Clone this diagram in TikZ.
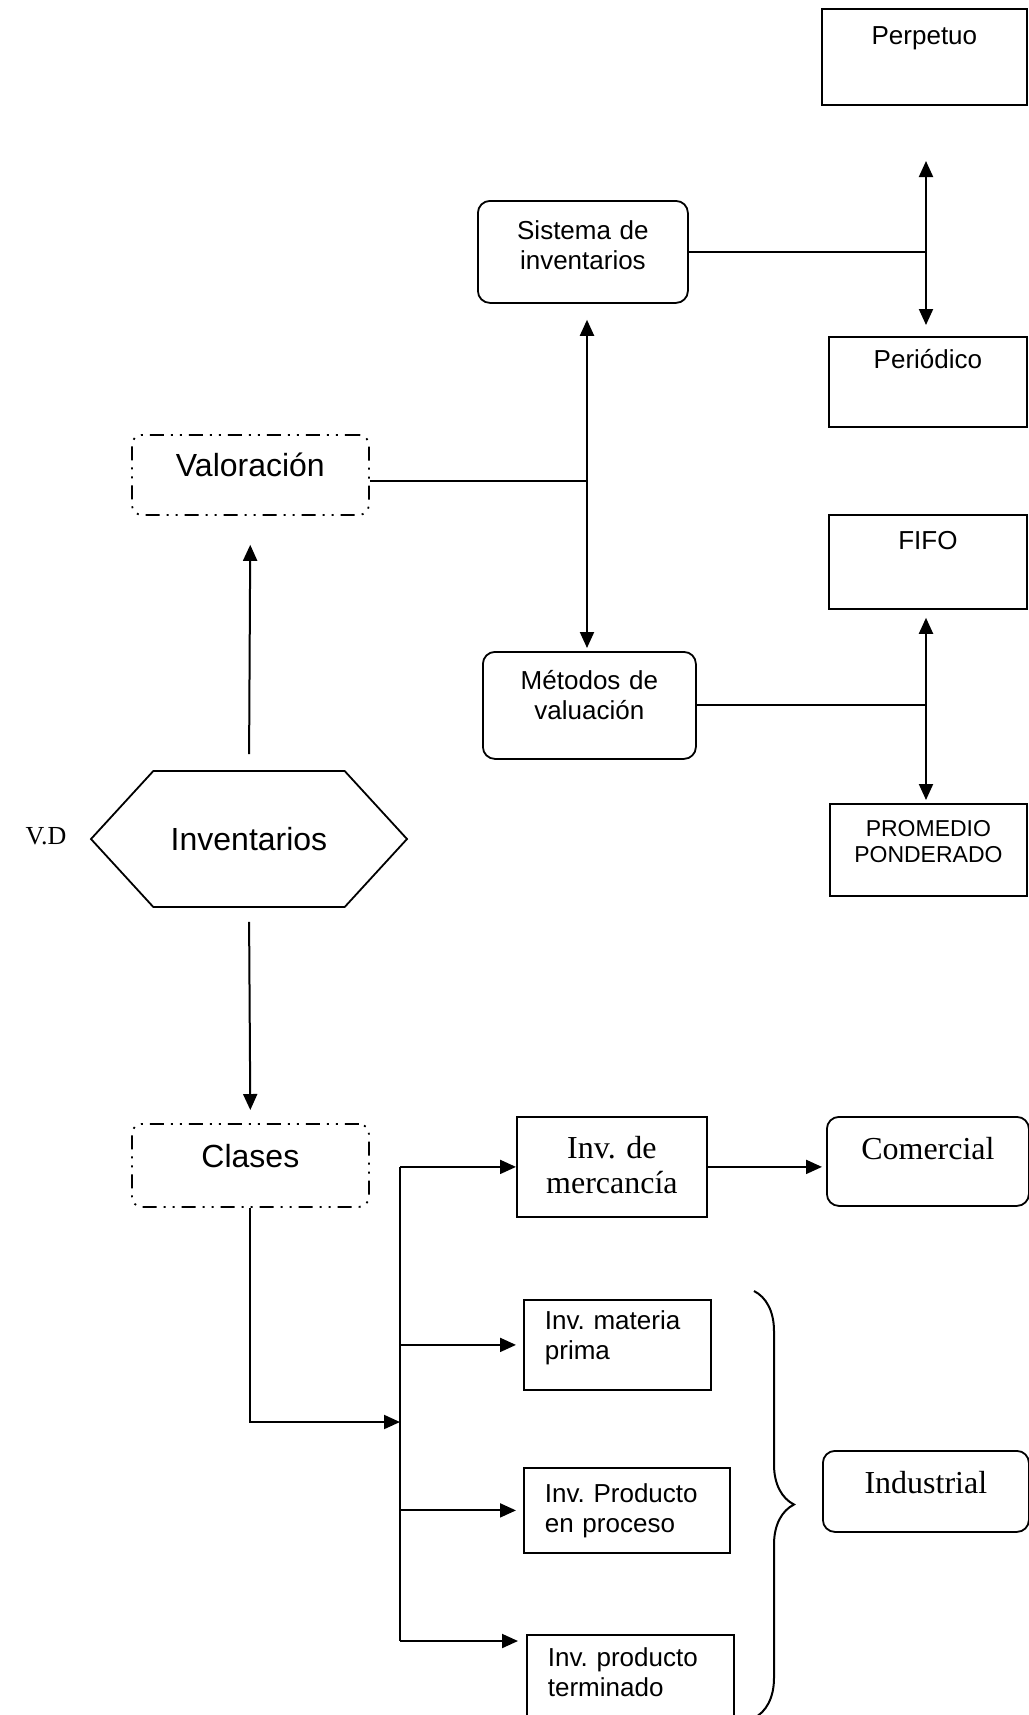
\documentclass[tikz,border=0pt]{standalone}
\usepackage{fontspec}
\setmainfont{Liberation Sans}
\newfontfamily\timesfont{Liberation Serif}
\usetikzlibrary{arrows.meta,calc,positioning,shapes.symbols,decorations.pathreplacing}
\frenchspacing

\tikzset{
  plainbox/.style={draw, line width=0.9pt, inner sep=0pt, align=center,
    font=\fontsize{13}{15}\selectfont},
  roundbox/.style={plainbox, rounded corners=6pt},
  dotbox/.style={plainbox, rounded corners=5pt, font=\fontsize{16}{19}\selectfont,
    dash pattern=on 7pt off 3.5pt on 1pt off 3.5pt on 1pt off 3.5pt},
  leftbox/.style={plainbox, align=left, inner xsep=10.5pt},
  serif/.style={font=\timesfont\fontsize{16}{17.5}\selectfont},
  boxdim/.style n args={3}{text width=#1, text height=#2, text depth=#3},
  link/.style={line width=1pt},
  arr/.style={link, -{Triangle[length=8pt,width=7pt]}},
  dbl/.style={link, {Triangle[length=8pt,width=7pt]}-{Triangle[length=8pt,width=7pt]}},
}

\begin{document}
\begin{tikzpicture}[x=0.5pt, y=-0.5pt]
    \useasboundingbox (0,0) rectangle (1029,1715);

    % Centre: variable and its two branches
    \node[draw, line width=0.9pt, shape=signal, signal to=west and east, signal pointer angle=95,
          minimum width=158pt, minimum height=68pt, inner sep=0pt,
          font=\fontsize{16}{19}\selectfont] (invent) at (249,839) {Inventarios};
    \node[font=\timesfont\fontsize{13}{15}\selectfont] (vd) at (46,836) {V.D};
    \node[dotbox, boxdim={118.5pt}{21pt}{19pt}, anchor=north west] (valor) at (131,434) {Valoraci\'on};
    \node[dotbox, boxdim={118.5pt}{22pt}{19.5pt}, anchor=north west] (clases) at (131,1123) {Clases};
    \draw[arr, shorten <=8pt, shorten >=14.5pt] (invent.north) -- (valor.south);
    \draw[arr, shorten <=7pt, shorten >=6.5pt] (invent.south) -- (clases.north);

    % Valoracion: sistema and metodos
    \node[roundbox, boxdim={105pt}{19.5pt}{31.5pt}, anchor=north west] (sistema) at (477,200) {Sistema de\\inventarios};
    \node[roundbox, boxdim={106.5pt}{19pt}{34.5pt}, anchor=north west] (metodo) at (482,651) {M\'etodos de\\valuaci\'on};
    \coordinate (vjoin) at (587,481);
    \draw[link] (vjoin -| valor.east) -- (vjoin);
    \draw[dbl, shorten <=8pt, shorten >=1.5pt] (vjoin |- sistema.south) -- (vjoin |- metodo.north);

    % Sistema de inventarios
    \node[plainbox, boxdim={102.5pt}{18pt}{30pt}, anchor=north west] (perpet) at (821,8) {Perpetuo};
    \node[plainbox, boxdim={99pt}{16pt}{29pt}, anchor=north west] (period) at (828,336) {Peri\'odico};
    \coordinate (perup) at (926,161);
    \draw[link] (sistema.east) -- (sistema.east -| perup);
    \draw[dbl, shorten >=5.5pt] (perup) -- (perup |- period.north);

    % Metodos de valuacion
    \node[plainbox, boxdim={99pt}{17.5pt}{29.5pt}, anchor=north west] (fifo) at (828,514) {FIFO};
    \node[plainbox, boxdim={98.5pt}{16.5pt}{29.5pt}, font=\fontsize{11.5}{13}\selectfont,
          anchor=north west] (promed) at (829,803) {PROMEDIO\\PONDERADO};
    \draw[link] (metodo.east) -- (metodo.east -| perup);
    \draw[dbl, shorten <=4pt, shorten >=1.5pt] (perup |- fifo.south) -- (perup |- promed.north);

    % Clases
    \node[plainbox, serif, boxdim={95pt}{21pt}{29pt}, anchor=north west] (mercan) at (516,1116) {Inv. de\\mercanc\'{\i}a};
    \node[roundbox, serif, boxdim={101pt}{21.5pt}{23pt}, anchor=north west] (comerc) at (826,1116) {Comercial};
    \node[leftbox, boxdim={72.5pt}{15pt}{30pt}, anchor=north west] (materi) at (523,1299) {Inv. materia\\prima};
    \node[leftbox, boxdim={82pt}{17.5pt}{25pt}, anchor=north west] (proces) at (523,1467) {Inv. Producto\\en proceso};
    \node[leftbox, boxdim={82.5pt}{16pt}{29.5pt}, anchor=north west] (termin) at (526,1634) {Inv. producto\\terminado};
    \node[roundbox, serif, boxdim={103pt}{21.5pt}{19pt}, anchor=north west] (indust) at (822,1450) {Industrial};

    \coordinate (trunk) at (400,1422);
    \coordinate (tbot) at (400,1641);
    \draw[arr] (clases.south) |- (trunk);
    \draw[link] (trunk |- mercan.west) -- (tbot);
    \draw[arr] (trunk |- mercan.west) -- (mercan.west);
    \draw[arr, shorten >=3.5pt] (trunk |- materi.west) -- (materi.west);
    \draw[arr, shorten >=3.5pt] (trunk |- proces.west) -- (proces.west);
    \draw[arr, shorten >=4pt] (tbot) -- (tbot -| termin.west);
    \draw[arr, shorten >=2pt] (mercan.east) -- (mercan.east -| comerc.west);

    % Industrial brace
    \draw[link, decorate, decoration={brace, amplitude=20pt}] (754,1291) -- (754,1718);
\end{tikzpicture}
\end{document}
